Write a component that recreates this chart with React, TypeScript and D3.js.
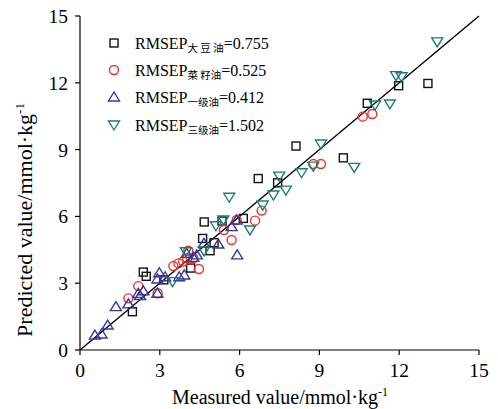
import React from "react";
import * as d3 from "d3";

const soybean: [number, number][] = [
  [1.97, 1.72], [2.38, 3.5], [2.49, 3.31], [3.15, 3.15], [4.16, 3.68], [4.61, 5.01],
  [4.89, 4.46], [5.04, 4.82], [4.67, 5.75], [5.34, 5.79], [6.14, 5.91], [6.7, 7.7],
  [7.43, 7.51], [8.12, 9.16], [9.9, 8.63], [10.8, 11.08], [11.98, 11.87], [13.08, 11.97],
];
const rapeseed: [number, number][] = [
  [1.82, 2.32], [2.19, 2.87], [2.92, 2.55], [3.51, 3.77], [3.7, 3.89], [3.88, 3.97],
  [4.03, 4.12], [4.07, 4.46], [4.26, 4.12], [4.47, 3.64], [5.41, 5.39], [5.7, 4.94],
  [5.89, 5.84], [6.58, 5.81], [6.83, 6.26], [8.77, 8.35], [9.06, 8.35], [10.63, 10.48],
  [10.99, 10.6],
];
const gradeOne: [number, number][] = [
  [0.56, 0.67], [0.81, 0.72], [1.04, 1.12], [1.35, 1.95], [1.82, 2.07], [2.19, 2.54],
  [2.38, 2.66], [2.26, 2.44], [2.91, 2.55], [2.98, 3.47], [2.91, 3.19], [3.2, 3.29],
  [3.73, 3.29], [3.92, 3.37], [4.01, 4.34], [4.26, 4.16], [4.39, 4.27], [4.66, 4.79],
  [5.2, 4.76], [5.7, 5.54], [5.91, 4.27], [5.89, 5.84],
];
const gradeThree: [number, number][] = [
  [3.48, 3.07], [3.98, 4.41], [4.66, 4.45], [5.11, 5.58], [5.39, 5.84], [5.61, 6.86],
  [6.39, 5.39], [6.87, 6.51], [7.27, 6.96], [7.49, 7.81], [7.74, 7.18], [8.33, 7.96],
  [8.77, 8.26], [9.06, 9.25], [10.31, 8.2], [11.09, 11.0], [11.65, 11.05], [11.88, 12.32],
  [12.09, 12.27], [13.43, 13.84],
];
const ticks = [0, 3, 6, 9, 12, 15];
const legendSubs = ["大 豆 油", "菜 籽油", "一级油", "三级油"];
const legendVals = ["0.755", "0.525", "0.412", "1.502"];

const colors = ["#111111", "#e8312f", "#35389c", "#1b7d78"];

export default function App() {
  const W = 498, H = 409;
  const x = d3.scaleLinear().domain([0, 15]).range([80, 479]);
  const y = d3.scaleLinear().domain([0, 15]).range([350, 16]);
  const font = "'Liberation Serif', 'Times New Roman', serif";
  const sw = 1.4;

  const square = (cx: number, cy: number, c: string, k: string) => (
    <rect key={k} x={cx - 4} y={cy - 4} width={8} height={8} fill="none" stroke={c} strokeWidth={sw} />
  );
  const circle = (cx: number, cy: number, c: string, k: string) => (
    <circle key={k} cx={cx} cy={cy} r={4.5} fill="none" stroke={c} strokeWidth={sw} />
  );
  const tri = (cx: number, cy: number, c: string, k: string) => (
    <path key={k} d={`M${cx},${cy - 5}L${cx + 5.5},${cy + 4}L${cx - 5.5},${cy + 4}Z`} fill="none" stroke={c} strokeWidth={sw} />
  );
  const itri = (cx: number, cy: number, c: string, k: string) => (
    <path key={k} d={`M${cx},${cy + 5}L${cx + 5.5},${cy - 4}L${cx - 5.5},${cy - 4}Z`} fill="none" stroke={c} strokeWidth={sw} />
  );
  const shapes = [square, circle, tri, itri];
  const series = [soybean, rapeseed, gradeOne, gradeThree];
  const legendY = [43, 70, 97, 125];

  return (
    <svg width={W} height={H} style={{ position: "absolute", left: 0, top: 0, background: "#fff" }}>
      <rect x={0} y={0} width={W} height={H} fill="#fff" />
      {/* axes */}
      <line x1={x(0)} y1={y(0)} x2={x(15)} y2={y(0)} stroke="#000" strokeWidth={1.2} />
      <line x1={x(0)} y1={y(0)} x2={x(0)} y2={y(15)} stroke="#000" strokeWidth={1.2} />
      {ticks.map((t) => (
        <g key={"x" + t}>
          <line x1={x(t)} x2={x(t)} y1={y(0)} y2={y(0) + 5} stroke="#000" strokeWidth={1.2} />
          <text x={x(t)} y={y(0) + 27} textAnchor="middle" fontFamily={font} fontSize={19.5}>{t}</text>
        </g>
      ))}
      {ticks.map((t) => (
        <g key={"y" + t}>
          <line x1={x(0) - 5} x2={x(0)} y1={y(t)} y2={y(t)} stroke="#000" strokeWidth={1.2} />
          <text x={x(0) - 12} y={y(t) + 7} textAnchor="end" fontFamily={font} fontSize={19.5}>{t}</text>
        </g>
      ))}
      {/* 1:1 line */}
      <line x1={x(0)} y1={y(0)} x2={x(15)} y2={y(15)} stroke="#000" strokeWidth={1.4} />
      {/* points */}
      {series.map((s, i) => s.map((d, j) => shapes[i](x(d[0]), y(d[1]), colors[i], `p${i}-${j}`)))}
      {/* legend */}
      {legendY.map((ly, i) => (
        <g key={"l" + i}>
          {shapes[i](114, ly, colors[i], "lg" + i)}
          <text x={135} y={ly + 6} fontFamily={font} fontSize={16}>
            RMSEP
            <tspan fontFamily="'Noto Sans CJK SC', sans-serif" fontSize={10.5} dy={3}>{legendSubs[i]}</tspan>
            <tspan dy={-3}>={legendVals[i]}</tspan>
          </text>
        </g>
      ))}
      {/* axis titles */}
      <text x={280} y={404} textAnchor="middle" fontFamily={font} fontSize={20}>
        Measured value/mmol·kg<tspan fontSize={12} dy={-8}>-1</tspan>
      </text>
      <text transform={`translate(32,220) rotate(-90)`} textAnchor="middle" fontFamily={font} fontSize={22}>
        Predicted value/mmol·kg<tspan fontSize={13} dy={-8}>-1</tspan>
      </text>
    </svg>
  );
}
